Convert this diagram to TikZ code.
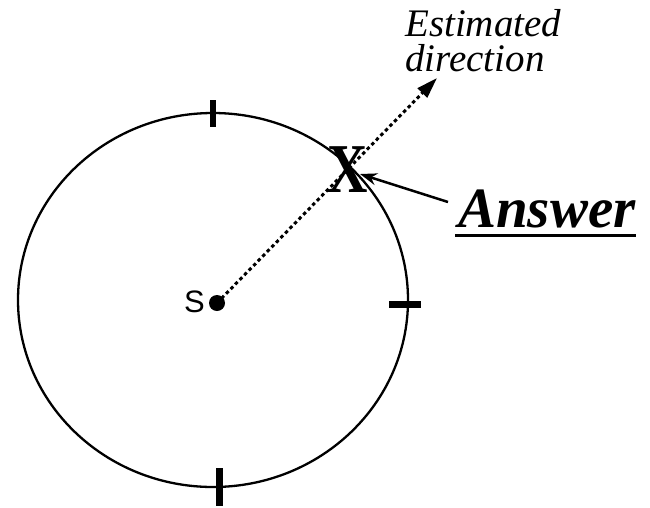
\documentclass[tikz,border=0pt]{standalone}
\usepackage{fontspec}
\setmainfont{Liberation Serif}
\newfontfamily\sansS{Liberation Sans}
\usetikzlibrary{arrows.meta}
\tikzset{
  ring/.style={line width=2.3pt},
  tickmark/.style={line width=6.5pt},
  dotline/.style={line width=3pt, dash pattern=on 3.5pt off 3pt},
  estlabel/.style={font=\fontsize{39}{35}\selectfont\itshape, inner sep=0pt, align=left, anchor=base west},
  anslabel/.style={font=\fontsize{57}{60}\selectfont\bfseries\itshape, inner sep=0pt, anchor=base west},
  pointer/.style={line width=2.5pt, -{Stealth[length=17pt,width=12pt]}}
}
\begin{document}
\begin{tikzpicture}[x=1pt,y=-1pt]
\useasboundingbox (0,0) rectangle (650,507);
% circle
\draw[ring] (213,300) ellipse [x radius=195, y radius=187];
% ticks
\draw[tickmark] (213,100) -- (213,127);
\draw[tickmark] (389,304.5) -- (421,304.5);
\draw[tickmark] (219.5,468) -- (219.5,506);
% source
\node[circle, fill=black, inner sep=0pt, minimum size=16pt] (s) at (217,303) {};
\node[font=\sansS\fontsize{31}{33}\selectfont, inner sep=0pt, anchor=base east] (slab) at (205,312) {S};
% X mark
\node[font=\fontsize{70}{72}\selectfont\bfseries, xscale=0.8, inner sep=0pt] (xm) at (348,170) {X};
% estimated direction
\coordinate (tip) at (437,78);
\draw[dotline, -{Triangle[length=21pt,width=13pt]}] (s.center) -- (tip);
\node[estlabel] (est) at (405,71) {Estimated\\direction};
% answer
\node[anslabel] (ans) at (458,227) {Answer};
\draw[line width=2.8pt] (455,235.5) -- (636,235.5);
\coordinate (atail) at (448,202);
\coordinate (ahead) at (360,174);
\draw[pointer] (atail) -- (ahead);
\end{tikzpicture}
\end{document}
